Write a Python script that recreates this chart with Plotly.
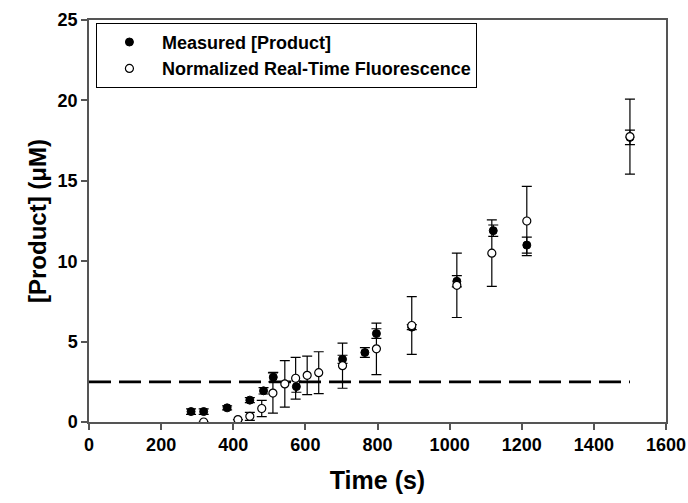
import plotly.graph_objects as go

# Measured [Product] (filled circles)
t_meas = [283, 318, 383, 446, 484, 511, 575, 703, 765, 797, 895, 1020, 1121, 1214, 1500]
p_meas = [0.65, 0.65, 0.88, 1.36, 1.94, 2.79, 2.2, 3.9, 4.32, 5.5, 5.9, 8.75, 11.9, 11.0, 17.7]
e_meas = [0.17, 0.17, 0.12, 0.15, 0.2, 0.3, 0.35, 0.25, 0.3, 0.3, 0.15, 0.35, 0.35, 0.5, 0.45]

# Normalized Real-Time Fluorescence (open circles)
t_norm = [318, 413, 446, 479, 510, 543, 573, 605, 637, 703, 797, 895, 1020, 1117, 1214, 1500]
p_norm = [0.0, 0.15, 0.35, 0.84, 1.8, 2.37, 2.72, 2.9, 3.07, 3.5, 4.55, 6.0, 8.5, 10.5, 12.5, 17.75]
e_norm = [None, None, 0.25, 0.5, 1.25, 1.45, 1.3, 1.2, 1.3, 1.4, 1.6, 1.8, 2.0, 2.07, 2.15, 2.33]

# Threshold line
thr_x = [0, 1500]
thr_y = [2.5, 2.5]

x_ticks = [0, 200, 400, 600, 800, 1000, 1200, 1400, 1600]
y_ticks = [0, 5, 10, 15, 20, 25]

FONT = "Liberation Sans, Arial, sans-serif"

fig = go.Figure()
fig.add_trace(go.Scatter(
    x=thr_x, y=thr_y, mode="lines", showlegend=False,
    line=dict(color="black", width=2.8, dash="22px,8px"),
))
fig.add_trace(go.Scatter(
    x=t_meas, y=p_meas, mode="markers", name="Measured [Product]",
    marker=dict(symbol="circle", size=8, color="black", line=dict(color="black", width=1)),
    error_y=dict(type="data", array=e_meas, visible=True, color="black", thickness=1.2, width=5),
))
fig.add_trace(go.Scatter(
    x=t_norm, y=p_norm, mode="markers", name="Normalized Real-Time Fluorescence",
    marker=dict(symbol="circle", size=8, color="white", line=dict(color="black", width=1.2)),
    error_y=dict(type="data", array=e_norm, visible=True, color="black", thickness=1.2, width=5),
))

axis_common = dict(
    showgrid=False, zeroline=False, showline=True, linecolor="#555", linewidth=1.5,
    mirror=True, ticks="outside", ticklen=6, tickwidth=1.5, tickcolor="#555",
    tickfont=dict(family=FONT, size=18, color="black", weight="bold"),
    automargin=False,
)

fig.update_layout(
    width=688, height=503,
    margin=dict(l=89, r=22, t=20, b=81),
    paper_bgcolor="white", plot_bgcolor="white",
    font=dict(family=FONT, color="black"),
    xaxis=dict(range=[0, 1600], tickvals=x_ticks,
               title=dict(text="Time (s)", font=dict(family=FONT, size=25, weight="bold"), standoff=17),
               **axis_common),
    yaxis=dict(range=[0, 25], tickvals=y_ticks,
               title=dict(text="[Product] (μM)", font=dict(family=FONT, size=24, weight="bold"), standoff=4),
               **axis_common),
    legend=dict(x=0.012, y=0.993, xanchor="left", yanchor="top",
                bgcolor="white", bordercolor="black", borderwidth=1,
                font=dict(family=FONT, size=18, color="black", weight="bold"),
                itemwidth=55, tracegroupgap=0),
)

fig.write_html("out.html")
